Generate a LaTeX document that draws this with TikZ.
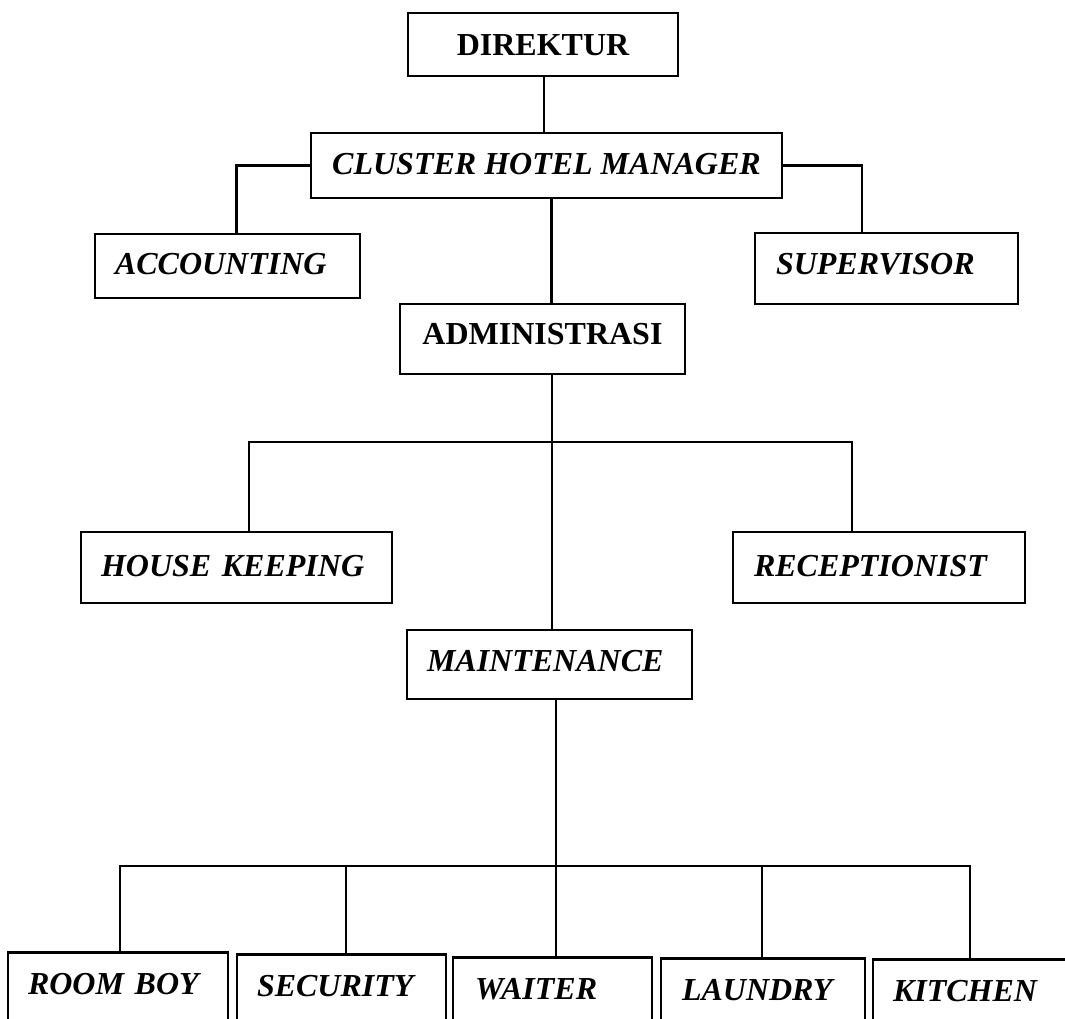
\documentclass[tikz,border=0pt]{standalone}
\usepackage{fontspec}
\setmainfont{Liberation Serif}
\newcommand\orgfont{\fontsize{32}{38}\selectfont\bfseries\spaceskip=0.25em\relax}
\begin{document}
\begin{tikzpicture}[x=1pt,y=-1pt,
  box/.style={draw, line width=2.8pt, inner ysep=0pt, text height=22pt, text depth=0pt, font=\orgfont\itshape, align=left},
  upbox/.style={box, font=\orgfont\upshape, align=center},
  lowbox/.style={box, anchor=north, text height=42pt, text depth=40pt},
  link/.style={line width=2.4pt}]
\path[use as bounding box, clip] (0,0) rectangle (1065,1018);
% top levels
\node[upbox, text width=230pt, inner xsep=20pt, minimum height=63pt] (dir) at (543,44.5) {DIREKTUR};
\node[box, align=center, minimum width=471pt, inner xsep=10pt, minimum height=65pt, text depth=4pt] (chm) at (546.5,165.5) {CLUSTER HOTEL MANAGER};
\node[box, text width=225pt, inner xsep=20pt, minimum height=64pt, text depth=6pt] (acc) at (227.5,266) {ACCOUNTING};
\node[box, text width=221pt, inner xsep=21pt, minimum height=71pt, text depth=11pt] (sup) at (886.5,268.5) {SUPERVISOR};
\node[upbox, text width=245pt, inner xsep=20pt, minimum height=70pt, text depth=12pt] (adm) at (542.5,339) {ADMINISTRASI};
\node[box, text width=271pt, inner xsep=20pt, minimum height=71pt, text depth=5pt] (hk) at (236.5,567.5) {HOUSE KEEPING};
\node[box, text width=250pt, inner xsep=21pt, minimum height=71pt, text depth=5pt] (rec) at (879,567.5) {RECEPTIONIST};
\node[box, text width=245pt, inner xsep=20pt, minimum height=69pt, text depth=9pt] (mnt) at (549.5,664.5) {MAINTENANCE};
% bottom row
\node[lowbox, text width=180pt, inner xsep=20pt] (rb) at (118,951) {ROOM BOY};
\node[lowbox, text width=169pt, inner xsep=20pt] (sec) at (341.5,953) {SECURITY};
\node[lowbox, text width=155pt, inner xsep=22pt] (wai) at (552.5,956) {WAITER};
\node[lowbox, text width=162pt, inner xsep=21pt] (lau) at (763,957) {LAUNDRY};
\node[lowbox, text width=175pt, inner xsep=20pt] (kit) at (980.5,958) {KITCHEN};
% junctions
\coordinate (j1) at (552,442);
\coordinate (j2) at (556,866);
% connectors
\draw[link] ([xshift=1pt]dir.south) -- ([xshift=1pt]dir.south |- chm.north);
\draw[link] (chm.west) -| ([xshift=9pt]acc.north);
\draw[link] (chm.east) -| ([xshift=-24.5pt]sup.north);
\draw[link] ([xshift=5pt]chm.south) -- ([xshift=5pt]chm.south |- adm.north);
\draw[link] ([xshift=9.5pt]adm.south) -- ([xshift=9.5pt]adm.south |- mnt.north);
\draw[link] ([xshift=12.5pt]hk.north) |- (j1) -| ([xshift=-27pt]rec.north);
\draw[link] ([xshift=6.5pt]mnt.south) -- ([xshift=6.5pt]mnt.south |- wai.north);
\draw[link] ([xshift=2pt]rb.north) |- (j2) -| ([xshift=-10.5pt]kit.north);
\draw[link] ([xshift=4.5pt]sec.north) -- ([xshift=4.5pt]sec.north |- j2);
\draw[link] ([xshift=-1pt]lau.north) -- ([xshift=-1pt]lau.north |- j2);
\end{tikzpicture}
\end{document}
